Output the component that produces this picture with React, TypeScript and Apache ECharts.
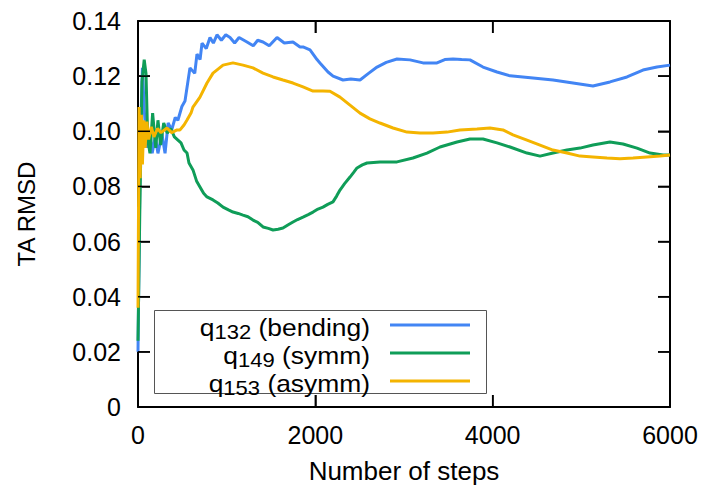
import React, { useEffect, useRef } from "react";
import * as echarts from "echarts";

// ---- data ----
const xTicks = [0, 2000, 4000, 6000];
const yTicks = [0, 0.02, 0.04, 0.06, 0.08, 0.1, 0.12, 0.14];

const bendingSteps = [0, 25, 50, 70, 100, 135, 160, 195, 225, 270, 305, 340, 380, 420, 450, 495, 530, 586, 640, 665, 700, 722, 770, 812, 850, 891, 940, 990, 1038, 1090, 1140, 1229, 1300, 1350, 1410, 1480, 1568, 1650, 1748, 1827, 1861, 1940, 2019, 2052, 2143, 2200, 2312, 2400, 2504, 2600, 2696, 2800, 2921, 3068, 3214, 3372, 3460, 3553, 3650, 3744, 3891, 4049, 4196, 4455, 4681, 4906, 5131, 5323, 5515, 5695, 5853, 6000];
const bendingValues = [0.020, 0.095, 0.123, 0.108, 0.094, 0.100, 0.092, 0.098, 0.092, 0.099, 0.092, 0.103, 0.1005, 0.105, 0.104, 0.109, 0.111, 0.123, 0.121, 0.128, 0.126, 0.132, 0.130, 0.134, 0.132, 0.135, 0.133, 0.135, 0.134, 0.132, 0.134, 0.1324, 0.131, 0.133, 0.1324, 0.131, 0.134, 0.132, 0.1324, 0.1306, 0.1306, 0.1295, 0.126, 0.1248, 0.1215, 0.120, 0.1186, 0.119, 0.1186, 0.121, 0.1233, 0.125, 0.1262, 0.1259, 0.1248, 0.1248, 0.126, 0.1262, 0.126, 0.1259, 0.1233, 0.1215, 0.1201, 0.1193, 0.1186, 0.1175, 0.1164, 0.1179, 0.1197, 0.1222, 0.1233, 0.124];

const symmSteps = [0, 20, 45, 70, 90, 110, 135, 165, 200, 225, 255, 290, 330, 370, 410, 485, 519, 553, 575, 620, 660, 699, 740, 778, 846, 900, 959, 1020, 1071, 1130, 1184, 1240, 1297, 1350, 1410, 1470, 1523, 1580, 1635, 1690, 1748, 1800, 1861, 1920, 1974, 2030, 2086, 2140, 2199, 2240, 2278, 2330, 2391, 2430, 2470, 2530, 2583, 2729, 2921, 3101, 3259, 3406, 3598, 3744, 3891, 4049, 4196, 4387, 4534, 4680, 4838, 4985, 5131, 5323, 5470, 5628, 5775, 5921, 6000];
const symmValues = [0.024, 0.07, 0.118, 0.126, 0.121, 0.097, 0.092, 0.1066, 0.094, 0.104, 0.095, 0.103, 0.0994, 0.101, 0.098, 0.0958, 0.0932, 0.0921, 0.0885, 0.086, 0.082, 0.0798, 0.0775, 0.0762, 0.0751, 0.074, 0.0725, 0.0715, 0.0707, 0.0702, 0.0696, 0.069, 0.0678, 0.067, 0.0653, 0.0648, 0.0642, 0.0645, 0.0649, 0.066, 0.0671, 0.068, 0.0689, 0.0698, 0.0707, 0.0718, 0.0725, 0.0735, 0.0744, 0.0765, 0.0787, 0.081, 0.0834, 0.085, 0.0867, 0.0878, 0.0885, 0.0889, 0.0889, 0.0903, 0.0921, 0.0943, 0.0961, 0.0972, 0.0972, 0.0958, 0.0943, 0.0921, 0.091, 0.0921, 0.0932, 0.0939, 0.095, 0.0961, 0.0954, 0.0939, 0.0921, 0.0914, 0.0914];

const asymmSteps = [0, 12, 25, 38, 50, 65, 80, 100, 120, 150, 180, 220, 260, 327, 380, 440, 474, 519, 553, 598, 620, 699, 778, 846, 959, 1071, 1184, 1297, 1410, 1523, 1635, 1748, 1861, 1974, 2086, 2165, 2278, 2391, 2504, 2616, 2729, 2876, 3034, 3180, 3327, 3485, 3631, 3823, 3970, 4116, 4229, 4387, 4534, 4680, 4838, 4985, 5131, 5289, 5436, 5583, 5740, 5887, 6000];
const asymmValues = [0.036, 0.1088, 0.083, 0.106, 0.088, 0.104, 0.094, 0.1035, 0.097, 0.1016, 0.098, 0.101, 0.0995, 0.1012, 0.0995, 0.1005, 0.1005, 0.1023, 0.1041, 0.1066, 0.1088, 0.1124, 0.1175, 0.1211, 0.124, 0.1248, 0.124, 0.123, 0.1211, 0.1197, 0.1186, 0.1175, 0.1161, 0.1146, 0.1146, 0.1145, 0.1124, 0.1095, 0.1066, 0.1045, 0.103, 0.1012, 0.0997, 0.0994, 0.0994, 0.0997, 0.1005, 0.1008, 0.1012, 0.1005, 0.0987, 0.0968, 0.095, 0.0932, 0.0921, 0.091, 0.0907, 0.0903, 0.09, 0.0903, 0.0907, 0.091, 0.0914];

const seriesNames = ["q132 (bending)", "q149 (symm)", "q153 (asymm)"];
const legendMain = ["q", "q", "q"];
const legendSub = ["132", "149", "153"];
const legendSuffix = [" (bending)", " (symm)", " (asymm)"];
const colors = ["#4285F4", "#0F9D58", "#F4B400"];

const FONT = "'Liberation Sans', Arial, Helvetica, sans-serif";
const TICK_LEN = 12;

function zip(xs: number[], ys: number[]) {
  return xs.map((x, i) => [x, ys[i]]);
}

function measure(text: string, size: number) {
  const c = document.createElement("canvas").getContext("2d");
  if (!c) return text.length * size * 0.55;
  c.font = `${size}px ${FONT}`;
  return c.measureText(text).width;
}

function axisLine() {
  return { show: true, onZero: false, lineStyle: { color: "#000", width: 2 } };
}
function tick() {
  return { show: true, inside: true, length: TICK_LEN, lineStyle: { color: "#000", width: 1.5 } };
}

export default function App() {
  const ref = useRef<HTMLDivElement>(null);
  useEffect(() => {
    if (!ref.current) return;
    const chart = echarts.init(ref.current, null, { renderer: "svg" });

    const gridLeft = 138, gridTop = 21, gridW = 532, gridH = 386;
    const mainSize = 24, subSize = 20, sx = 1.1;
    const textRight = 370;
    const rowY = [325, 353, 381];
    const legendGraphics: any[] = [
      {
        type: "rect",
        shape: { x: 154.5, y: 310.5, width: 332, height: 83 },
        style: { fill: "#fff", stroke: "#555", lineWidth: 1 },
        z: 50,
      },
    ];
    rowY.forEach((y, i) => {
      const wSuffix = measure(legendSuffix[i], mainSize) * sx;
      const wSub = measure(legendSub[i], subSize) * sx;
      legendGraphics.push(
        {
          type: "text", x: textRight, y: y + 2, scaleX: sx, z: 51,
          style: { text: legendSuffix[i], fontSize: mainSize, fontFamily: FONT, fill: "#000", align: "right", verticalAlign: "middle" },
        },
        {
          type: "text", x: textRight - wSuffix, y: y + 7, scaleX: sx, z: 51,
          style: { text: legendSub[i], fontSize: subSize, fontFamily: FONT, fill: "#000", align: "right", verticalAlign: "middle" },
        },
        {
          type: "text", x: textRight - wSuffix - wSub, y: y + 2, scaleX: sx, z: 51,
          style: { text: legendMain[i], fontSize: mainSize, fontFamily: FONT, fill: "#000", align: "right", verticalAlign: "middle" },
        },
        {
          type: "line", z: 51,
          shape: { x1: 390, y1: y, x2: 470, y2: y },
          style: { stroke: colors[i], lineWidth: 3 },
        }
      );
    });

    const xMin = xTicks[0], xMax = xTicks[xTicks.length - 1];
    const yMin = yTicks[0], yMax = yTicks[yTicks.length - 1];

    chart.setOption({
      animation: false,
      textStyle: { fontFamily: FONT },
      grid: {
        left: gridLeft, top: gridTop, width: gridW, height: gridH,
        show: false,
        outerBoundsMode: "none",
        containLabel: false,
      },
      xAxis: [
        {
          type: "value", min: xMin, max: xMax, interval: 2000,
          position: "bottom",
          name: "Number of steps", nameLocation: "middle", nameGap: 51,
          nameTextStyle: { fontSize: 26, color: "#000", fontFamily: FONT },
          axisLine: axisLine(), axisTick: tick(), splitLine: { show: false },
          axisLabel: { fontSize: 25, color: "#000", margin: 15, fontFamily: FONT, formatter: (v: number) => String(v) },
        },
        {
          type: "value", min: xMin, max: xMax, interval: 2000,
          position: "top", axisLine: axisLine(), axisTick: tick(),
          splitLine: { show: false }, axisLabel: { show: false },
        },
      ],
      yAxis: [
        {
          type: "value", min: yMin, max: yMax, interval: 0.02,
          position: "left",
          name: "TA RMSD", nameLocation: "middle", nameGap: 100, nameRotate: 90,
          nameTextStyle: { fontSize: 24, color: "#000", fontFamily: FONT },
          axisLine: axisLine(), axisTick: tick(), splitLine: { show: false },
          axisLabel: {
            fontSize: 25, color: "#000", margin: 17, fontFamily: FONT,
            formatter: (v: number) => (Math.abs(v) < 1e-9 ? "0" : v.toFixed(2)),
          },
        },
        {
          type: "value", min: yMin, max: yMax, interval: 0.02,
          position: "right", axisLine: axisLine(), axisTick: tick(),
          splitLine: { show: false }, axisLabel: { show: false },
        },
      ],
      series: [
        { name: seriesNames[0], type: "line", xAxisIndex: 0, yAxisIndex: 0, data: zip(bendingSteps, bendingValues), showSymbol: false, symbol: "none", lineStyle: { color: colors[0], width: 3 }, itemStyle: { color: colors[0] } },
        { name: seriesNames[1], type: "line", xAxisIndex: 0, yAxisIndex: 0, data: zip(symmSteps, symmValues), showSymbol: false, symbol: "none", lineStyle: { color: colors[1], width: 3 }, itemStyle: { color: colors[1] } },
        { name: seriesNames[2], type: "line", xAxisIndex: 0, yAxisIndex: 0, data: zip(asymmSteps, asymmValues), showSymbol: false, symbol: "none", lineStyle: { color: colors[2], width: 3 }, itemStyle: { color: colors[2] } },
      ],
      graphic: legendGraphics,
    });

    // tick marks on all four sides, placed through the chart's own axis scales
    const tickEls: any[] = [];
    const px = (x: number, y: number) => {
      try {
        return chart.convertToPixel({ xAxisIndex: 0, yAxisIndex: 0 }, [x, y]) as any;
      } catch (e) {
        return null;
      }
    };
    yTicks.forEach((v) => {
      const l = px(xMin, v);
      const r = px(xMax, v);
      if (!l || !r) return;
      tickEls.push(
        { type: "line", z: 40, shape: { x1: l[0], y1: l[1], x2: l[0] + TICK_LEN, y2: l[1] }, style: { stroke: "#000", lineWidth: 1.5 } },
        { type: "line", z: 40, shape: { x1: r[0] - TICK_LEN, y1: r[1], x2: r[0], y2: r[1] }, style: { stroke: "#000", lineWidth: 1.5 } }
      );
    });
    xTicks.forEach((v) => {
      const b = px(v, yMin);
      const t = px(v, yMax);
      if (!b || !t) return;
      tickEls.push(
        { type: "line", z: 40, shape: { x1: b[0], y1: b[1], x2: b[0], y2: b[1] - TICK_LEN }, style: { stroke: "#000", lineWidth: 1.5 } },
        { type: "line", z: 40, shape: { x1: t[0], y1: t[1], x2: t[0], y2: t[1] + TICK_LEN }, style: { stroke: "#000", lineWidth: 1.5 } }
      );
    });
    if (tickEls.length) {
      chart.setOption({ graphic: legendGraphics.concat(tickEls) });
    }

    return () => chart.dispose();
  }, []);
  return <div ref={ref} style={{ width: 708, height: 495, position: "absolute", left: 0, top: 0 }} />;
}
